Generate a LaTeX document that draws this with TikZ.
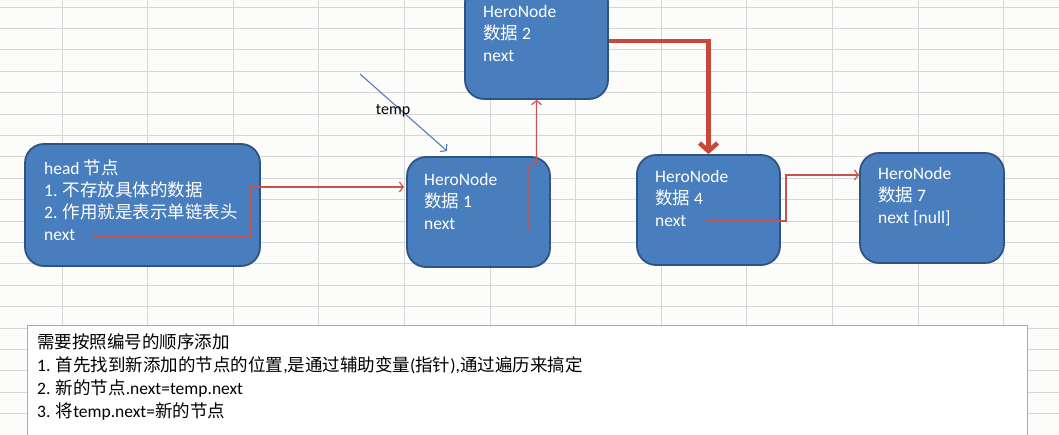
\documentclass[tikz,border=0pt]{standalone}
\usepackage{fontspec}
\setmainfont{Carlito}
\newfontfamily\cjk{Noto Sans CJK SC}
\usetikzlibrary{arrows.meta,calc}
\definecolor{nodeblue}{RGB}{72,126,189}
\definecolor{nodeborder}{RGB}{48,84,130}
\definecolor{linkred}{RGB}{200,82,76}
\definecolor{thickred}{RGB}{200,72,60}
\definecolor{tempblue}{RGB}{84,122,186}
\definecolor{gridgray}{RGB}{214,214,214}
\definecolor{notegray}{RGB}{170,170,170}
\definecolor{sheetbg}{RGB}{252,253,251}
\begin{document}
\begin{tikzpicture}[x=1pt,y=-1pt,
  herobox/.style={draw=nodeborder, line width=1.8pt, fill=nodeblue, rounded corners=19pt, inner sep=0pt},
  herotext/.style={text=white, anchor=base west, inner sep=0pt, font=\fontsize{17.5}{22}\selectfont},
  notetext/.style={text=black, anchor=base west, inner sep=0pt, font=\fontsize{17.5}{23}\selectfont},
  link/.style={draw=linkred, line width=1.2pt, -{Straight Barb[length=4pt,width=10pt]}},
  thicklink/.style={draw=thickred, line width=4.5pt, -{Straight Barb[length=8pt,width=18pt]}},
  tempptr/.style={draw=tempblue, line width=1.1pt, -{Straight Barb[length=4pt,width=10pt]}},
  gridline/.style={draw=gridgray, line width=0.9pt}
]
\useasboundingbox (0,0) rectangle (1059,435);
\fill[sheetbg] (0,0) rectangle (1059,435);
% spreadsheet grid
\foreach \i in {0,...,11} \draw[gridline] (62+85.6*\i,0) -- ++(0,435);
\foreach \j in {0,...,20} \draw[gridline] (0,7+21.4*\j) -- ++(1059,0);

% boxes
\node[herobox, minimum width=235pt, minimum height=122pt] (head) at (142.5,205) {};
\node[herobox, minimum width=143pt, minimum height=110pt] (n1) at (478.5,212) {};
\node[herobox, minimum width=143pt, minimum height=116pt] (n2) at (536.5,41) {};
\node[herobox, minimum width=143pt, minimum height=110pt] (n4) at (708.5,210) {};
\node[herobox, minimum width=144pt, minimum height=110pt] (n7) at (932,208) {};

% texts
\node[herotext] (headt) at (44,175) {\begin{tabular}[t]{@{}l@{}}head {\cjk 节点}\\1. {\cjk 不存放具体的数据}\\2. {\cjk 作用就是表示单链表头}\\next\end{tabular}};
\node[herotext] (n1t) at (424,186) {\begin{tabular}[t]{@{}l@{}}HeroNode\\{\cjk 数据} 1\\next\end{tabular}};
\node[herotext] (n2t) at (483,18) {\begin{tabular}[t]{@{}l@{}}HeroNode\\{\cjk 数据} 2\\next\end{tabular}};
\node[herotext] (n4t) at (655,183) {\begin{tabular}[t]{@{}l@{}}HeroNode\\{\cjk 数据} 4\\next\end{tabular}};
\node[herotext] (n7t) at (878,180) {\begin{tabular}[t]{@{}l@{}}HeroNode\\{\cjk 数据} 7\\next [null]\end{tabular}};

% connector start points
\coordinate (headnext) at (94,237);
\coordinate (n1next) at (529,232);
\coordinate (n4next) at (705,221);
\coordinate (tempstart) at (360,74);
\coordinate (temptip) at (447,151);

\draw[link] (headnext) -- (250,237) -- (250,187) -- ($(n1.west)+(-2,-25)$);
\draw[link] (n1next) -- (529,166) -- (536.5,162) -- (n2.south);
\draw[thicklink] (n2.east) -| (n4.north);
\draw[link] (n4next) -- (786,221) -- (786,175) -- ($(n7.west)+(0,-33)$);
\draw[tempptr] (tempstart) -- (temptip);
\node[inner sep=0pt, font=\fontsize{16}{18}\selectfont] (templabel) at (393,111) {temp};

% note box
\node[draw=notegray, line width=1pt, fill=white, minimum width=1000pt, minimum height=130pt, inner sep=0pt] (note) at (527,390) {};
\node[notetext] (notet) at (37,348) {\begin{tabular}[t]{@{}l@{}}{\cjk 需要按照编号的顺序添加}\\1. {\cjk 首先找到新添加的节点的位置},{\cjk 是通过辅助变量}({\cjk 指针}),{\cjk 通过遍历来搞定}\\2. {\cjk 新的节点}.next=temp.next\\3. {\cjk 将}temp.next={\cjk 新的节点}\end{tabular}};
\end{tikzpicture}
\end{document}
